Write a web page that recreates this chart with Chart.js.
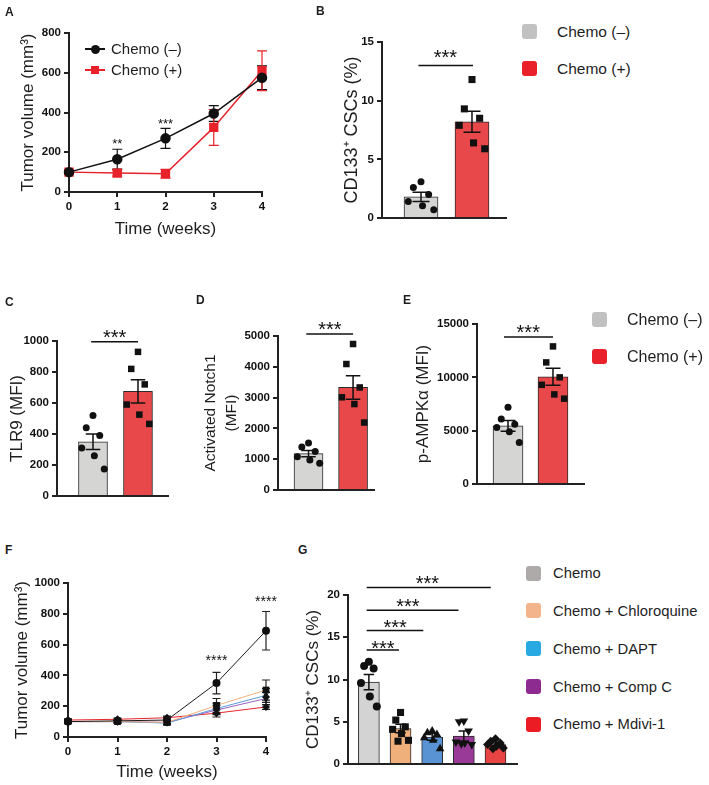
<!DOCTYPE html>
<html>
<head>
<meta charset="utf-8">
<script src="https://cdn.jsdelivr.net/npm/chart.js@4.4.1/dist/chart.umd.min.js"></script>
<style>
  body { margin: 0; background: #fff; font-family: "Liberation Sans", Arial, sans-serif; }
  #fig { position: relative; width: 709px; height: 785px; overflow: hidden; }
  #fig canvas { position: absolute; }
</style>
</head>
<body>
<div id="fig"></div>
<script>
// ---- data ----
var weeks = [0, 1, 2, 3, 4];
var twoGroups = ['Chemo (–)', 'Chemo (+)'];

// A: tumor volume
var aYTicks = [0, 200, 400, 600, 800];
var aNeg = [100, 165, 270, 395, 575];
var aNegErr = [10, 50, 50, 40, 60];
var aPos = [100, 95, 92, 325, 610];
var aPosErr = [10, 15, 22, 90, 100];

// B: CD133+ CSCs
var bTicks = [0, 5, 10, 15];
var bMeans = [1.8, 8.2];
var bSem = [0.4, 0.9];
var bPtsNeg = [3.1, 2.6, 2.0, 1.4, 1.05, 0.7];
var bPtsPos = [11.8, 9.3, 8.5, 7.9, 6.4, 5.9];

// C: TLR9
var cTicks = [0, 200, 400, 600, 800, 1000];
var cMeans = [350, 675];
var cSem = [50, 75];
var cPtsNeg = [520, 440, 390, 310, 260, 175];
var cPtsPos = [930, 820, 720, 590, 525, 465];

// D: activated Notch1
var dTicks = [0, 1000, 2000, 3000, 4000, 5000];
var dMeans = [1180, 3330];
var dSem = [100, 380];
var dPtsNeg = [1530, 1400, 1250, 1080, 970, 870];
var dPtsPos = [4740, 4090, 3330, 3010, 2790, 2190];

// E: p-AMPKa
var eTicks = [0, 5000, 10000, 15000];
var eMeans = [5450, 10050];
var eSem = [500, 800];
var ePtsNeg = [7200, 6100, 5600, 5300, 4900, 3900];
var ePtsPos = [12900, 11400, 10000, 9300, 8400, 8000];

// F: tumor volume, five groups
var fTicks = [0, 200, 400, 600, 800, 1000];
var fGroups = ['Chemo', 'Chemo + Chloroquine', 'Chemo + DAPT', 'Chemo + Comp C', 'Chemo + Mdivi-1'];
var fChemo = [100, 105, 110, 350, 690];
var fChloro = [100, 100, 95, 205, 305];
var fDapt = [100, 100, 90, 185, 270];
var fCompC = [100, 100, 95, 175, 250];
var fMdivi = [110, 115, 125, 155, 195];
var fChemoErr = [10, 10, 20, 70, 125];
var fChloroErr = [8, 8, 10, 45, 65];
var fDaptErr = [8, 8, 10, 35, 45];
var fCompCErr = [8, 8, 10, 30, 40];
var fMdiviErr = [8, 8, 10, 25, 15];

// G: CD133+ CSCs, five groups
var gTicks = [0, 5, 10, 15, 20];
var gMeans = [9.7, 4.2, 3.2, 3.3, 2.3];
var gSem = [0.9, 0.5, 0.4, 0.6, 0.2];
var gPtsChemo = [12.1, 11.6, 11.3, 9.6, 8.0, 6.8];
var gPtsChloro = [6.1, 5.2, 4.4, 4.1, 3.6, 2.8, 2.7];
var gPtsDapt = [3.9, 3.7, 3.5, 3.1, 2.8, 1.8];
var gPtsCompC = [5.1, 5.0, 3.9, 2.6, 2.5, 2.3, 2.4];
var gPtsMdivi = [3.0, 2.7, 2.5, 2.3, 2.1, 1.9, 1.8];

// ---- helpers ----
var FONT = '"Liberation Sans", Arial, Helvetica, sans-serif';
var AX = '#222';
Chart.defaults.font.family = FONT;
Chart.defaults.color = '#111';

var fig = document.getElementById('fig');
var jitter = [0, -0.15, 0.15, -0.25, 0.03, 0.25, -0.08];

function makeCanvas(box) {
  var c = document.createElement('canvas');
  c.width = box.w; c.height = box.h;
  c.style.left = box.x + 'px'; c.style.top = box.y + 'px';
  c.style.width = box.w + 'px'; c.style.height = box.h + 'px';
  fig.appendChild(c);
  return c;
}

function addText(txt, x, y, size, bold) {
  var d = document.createElement('div');
  d.textContent = txt;
  d.style.cssText = 'position:absolute;left:' + x + 'px;top:' + (y - size * 0.6) + 'px;font-size:' + size +
    'px;line-height:' + (size * 1.2) + 'px;white-space:nowrap;color:#1e1e1e;' + (bold ? 'font-weight:bold;' : '');
  fig.appendChild(d);
}

function addBox(x, y, w, h, color, radius) {
  var d = document.createElement('div');
  d.style.cssText = 'position:absolute;left:' + x + 'px;top:' + y + 'px;width:' + w + 'px;height:' + h +
    'px;background:' + color + ';border-radius:' + radius + ';';
  fig.appendChild(d);
}

// layout padding so the chart area lands where the reference puts it
function mkLayout(box, area, titleCx, titleLh, xBottom) {
  var pl = titleCx - box.x - titleLh / 2 - 4;
  return {
    padding: { left: pl, top: area.t - box.y, right: box.x + box.w - area.r, bottom: box.y + box.h - xBottom },
    yW: area.l - box.x - pl,
    xH: xBottom - area.b
  };
}

function ticksFrom(arr) {
  return function (s) { s.ticks = arr.map(function (v) { return { value: v }; }); };
}

function yScale(L, ticks, title, size, lineHeight) {
  return {
    type: 'linear', position: 'left', min: ticks[0], max: ticks[ticks.length - 1],
    afterBuildTicks: ticksFrom(ticks),
    afterFit: function (s) { s.width = L.yW; },
    grid: { drawOnChartArea: false, drawTicks: true, tickLength: 5, color: AX, lineWidth: 2 },
    border: { color: AX, width: 2 },
    ticks: { font: { size: 11.5, weight: 'bold' }, color: '#111', padding: 3, callback: function (v) { return String(v); } },
    title: { display: true, text: title, color: '#1e1e1e', font: { size: size, lineHeight: lineHeight || 1.2 }, padding: { top: 4, bottom: 4 } }
  };
}

function xLine(L, ticks) {
  return {
    type: 'linear', min: ticks[0], max: ticks[ticks.length - 1], offset: false,
    afterBuildTicks: ticksFrom(ticks),
    afterFit: function (s) { s.height = L.xH; },
    grid: { drawOnChartArea: false, drawTicks: true, tickLength: 5, color: AX, lineWidth: 2 },
    border: { color: AX, width: 2 },
    ticks: { font: { size: 11.5, weight: 'bold' }, color: '#111', padding: 3 },
    title: { display: true, text: 'Time (weeks)', color: '#1e1e1e', font: { size: 17 }, padding: { top: 0, bottom: 0 } }
  };
}

function xBar(L, min, max) {
  return {
    type: 'linear', min: min, max: max, offset: false,
    afterFit: function (s) { s.height = L.xH; },
    grid: { display: false },
    border: { color: AX, width: 2 },
    ticks: { display: false }
  };
}

function xy(xs, ys) {
  return xs.map(function (x, i) { return { x: x, y: ys[i] }; });
}

// error bars, significance lines and stars, in data units
var extras = {
  id: 'extras',
  beforeDatasetsDraw: function (chart, args, o) { if (o.under) drawErr(chart, o); },
  afterDatasetsDraw: function (chart, args, o) {
    if (!o.under) drawErr(chart, o);
    var ctx = chart.ctx, xs = chart.scales.x, ys = chart.scales.y;
    ctx.save();
    ctx.strokeStyle = '#111'; ctx.fillStyle = '#111'; ctx.lineWidth = 1.5;
    (o.sig || []).forEach(function (s) {
      var y = ys.getPixelForValue(s.y);
      ctx.beginPath();
      ctx.moveTo(xs.getPixelForValue(s.x1), y);
      ctx.lineTo(xs.getPixelForValue(s.x2), y);
      ctx.stroke();
    });
    (o.stars || []).forEach(function (s) {
      ctx.font = 'normal ' + s.size + 'px ' + FONT;
      ctx.textAlign = 'center'; ctx.textBaseline = 'alphabetic';
      ctx.fillText(s.text, xs.getPixelForValue(s.x), ys.getPixelForValue(s.y) + s.size * 0.58);
    });
    ctx.restore();
  }
};

function drawErr(chart, o) {
  var ctx = chart.ctx, xs = chart.scales.x, ys = chart.scales.y;
  ctx.save();
  (o.err || []).forEach(function (e) {
    ctx.strokeStyle = e.color || '#111';
    ctx.lineWidth = e.lw || 1.5;
    var x = xs.getPixelForValue(e.x);
    var y1 = ys.getPixelForValue(e.y - e.d), y2 = ys.getPixelForValue(e.y + e.d);
    ctx.beginPath();
    ctx.moveTo(x, y1); ctx.lineTo(x, y2);
    ctx.moveTo(x - e.cap, y1); ctx.lineTo(x + e.cap, y1);
    ctx.moveTo(x - e.cap, y2); ctx.lineTo(x + e.cap, y2);
    ctx.stroke();
  });
  ctx.restore();
}
Chart.register(extras);

function opts(L, scales, ex) {
  return {
    responsive: false, animation: false, events: [],
    layout: { padding: L.padding },
    scales: scales,
    plugins: { legend: { display: false }, tooltip: { enabled: false }, extras: ex }
  };
}

// bar panel with dots: groups at x = 0, 1, ...
function barPanel(p) {
  var L = mkLayout(p.box, p.area, p.titleCx, p.titleSize * (p.titleLh || 1.2), p.area.b + 4);
  var ds = [{
    type: 'bar', order: 2,
    data: p.means.map(function (m, i) { return { x: i, y: m }; }),
    backgroundColor: p.colors, borderColor: '#2a2a2a', borderWidth: 1, borderSkipped: 'bottom',
    barThickness: p.thick
  }];
  p.pts.forEach(function (arr, i) {
    ds.push({
      type: 'scatter', order: 1,
      data: arr.map(function (v, j) { return { x: i + jitter[j % jitter.length] * p.spread, y: v }; }),
      pointStyle: p.shapes[i], pointRotation: p.rot ? p.rot[i] : 0,
      pointRadius: p.radii[i], backgroundColor: '#111', borderWidth: 0
    });
  });
  var err = p.means.map(function (m, i) { return { x: i, y: m, d: p.sem[i], cap: p.thick * 0.25 }; });
  new Chart(makeCanvas(p.box), {
    type: 'bar',
    data: { datasets: ds },
    options: opts(L, { x: xBar(L, p.xMin, p.xMax), y: yScale(L, p.ticks, p.title, p.titleSize, p.titleLh) },
      { err: err, sig: p.sig, stars: p.stars })
  });
}

// ---- panel A ----
var LA = mkLayout({ x: 0, y: 0, w: 285, h: 245 }, { l: 69, r: 262, t: 33, b: 192 }, 28, 20.4, 239.2);
new Chart(makeCanvas({ x: 0, y: 0, w: 285, h: 245 }), {
  type: 'line',
  data: {
    datasets: [
      { label: twoGroups[0], data: xy(weeks, aNeg), order: 1, clip: false,
        borderColor: '#111', backgroundColor: '#111', borderWidth: 1.5, pointRadius: 4.5, pointStyle: 'circle' },
      { label: twoGroups[1], data: xy(weeks, aPos), order: 2, clip: false,
        borderColor: '#e8222a', backgroundColor: '#e8222a', borderWidth: 1.5, pointRadius: 5.5, pointStyle: 'rect' }
    ]
  },
  options: opts(LA, { x: xLine(LA, weeks), y: yScale(LA, aYTicks, 'Tumor volume (mm³)', 17) }, {
    under: true,
    err: weeks.map(function (w, i) { return { x: w, y: aNeg[i], d: aNegErr[i], cap: 5, lw: 1.2, color: '#111' }; })
      .concat(weeks.map(function (w, i) { return { x: w, y: aPos[i], d: aPosErr[i], cap: 5, lw: 1.2, color: '#e8222a' }; })),
    stars: [{ x: 1, y: 261, text: '**', size: 13 }, { x: 2, y: 362, text: '***', size: 13 }]
  })
});
// legend inside A
[{ c: '#111', r: '50%', s: 9 }, { c: '#e8222a', r: '0', s: 8 }].forEach(function (m, i) {
  var y = 49 + i * 21;
  addBox(85, y - 0.75, 20, 1.5, m.c, '0');
  addBox(95 - m.s / 2, y - m.s / 2, m.s, m.s, m.c, m.r);
  addText(twoGroups[i], 111, y, 15);
});

// ---- panel B ----
barPanel({
  box: { x: 300, y: 0, w: 220, h: 235 }, area: { l: 382, r: 506, t: 42, b: 218 },
  titleCx: 352, title: 'CD133⁺ CSCs (%)', titleSize: 18, ticks: bTicks,
  xMin: -0.765, xMax: 1.667, thick: 34, spread: 1,
  means: bMeans, sem: bSem, pts: [bPtsNeg, bPtsPos],
  colors: ['#d5d5d4', '#e8484a'], shapes: ['circle', 'rect'], radii: [3.5, 5],
  sig: [{ x1: -0.05, x2: 1.02, y: 13.0 }], stars: [{ x: 0.48, y: 14.1, text: '***', size: 20 }]
});
twoGroups.forEach(function (n, i) {
  var y = 31 + i * 37;
  addBox(522, y - 7.5, 15, 15, ['#c2c1c1', '#e8212a'][i], '3px');
  addText(n, 557, y + 1, 15.5);
});

// ---- panel C ----
barPanel({
  box: { x: 0, y: 300, w: 185, h: 210 }, area: { l: 57, r: 168, t: 341, b: 496 },
  titleCx: 17, title: 'TLR9 (MFI)', titleSize: 17, ticks: cTicks,
  xMin: -0.8, xMax: 1.667, thick: 29, spread: 1,
  means: cMeans, sem: cSem, pts: [cPtsNeg, cPtsPos],
  colors: ['#d5d5d4', '#e8484a'], shapes: ['circle', 'rect'], radii: [3.5, 4.6],
  sig: [{ x1: -0.04, x2: 1.0, y: 995 }], stars: [{ x: 0.48, y: 1055, text: '***', size: 20 }]
});

// ---- panel D ----
barPanel({
  box: { x: 185, y: 300, w: 200, h: 210 }, area: { l: 278, r: 374, t: 336, b: 490 },
  titleCx: 211, title: ['Activated Notch1', '(MFI)'], titleSize: 15.5, titleLh: 1.35, ticks: dTicks,
  xMin: -0.685, xMax: 1.47, thick: 29, spread: 1,
  means: dMeans, sem: dSem, pts: [dPtsNeg, dPtsPos],
  colors: ['#d5d5d4', '#e8484a'], shapes: ['circle', 'rect'], radii: [3.5, 4.6],
  sig: [{ x1: -0.05, x2: 1.0, y: 5065 }], stars: [{ x: 0.48, y: 5380, text: '***', size: 20 }]
});

// ---- panel E ----
barPanel({
  box: { x: 385, y: 300, w: 210, h: 210 }, area: { l: 477, r: 584, t: 324, b: 484 },
  titleCx: 423, title: 'p-AMPKα (MFI)', titleSize: 17, ticks: eTicks,
  xMin: -0.69, xMax: 1.69, thick: 30, spread: 1,
  means: eMeans, sem: eSem, pts: [ePtsNeg, ePtsPos],
  colors: ['#d5d5d4', '#e8484a'], shapes: ['circle', 'rect'], radii: [3.5, 4.6],
  sig: [{ x1: -0.09, x2: 1.0, y: 13780 }], stars: [{ x: 0.45, y: 14720, text: '***', size: 20 }]
});
twoGroups.forEach(function (n, i) {
  var y = 319 + i * 37;
  addBox(592, y - 7.5, 15, 15, ['#c2c1c1', '#e8212a'][i], '3px');
  addText(n, 627, y + 1, 16);
});

// ---- panel F ----
var fSeries = [fChemo, fChloro, fDapt, fCompC, fMdivi];
var fErrs = [fChemoErr, fChloroErr, fDaptErr, fCompCErr, fMdiviErr];
var fLine = ['#1a1a1a', '#f4b07e', '#5b9bd8', '#9a62bf', '#e8252b'];
var fShape = ['circle', 'rect', 'triangle', 'triangle', 'rectRot'];
var fRot = [0, 0, 0, 180, 0];
var fRad = [4, 4.8, 4.5, 4.5, 4];
var LF = mkLayout({ x: 0, y: 560, w: 285, h: 225 }, { l: 68, r: 266, t: 583, b: 737 }, 22, 20.4, 782.2);
new Chart(makeCanvas({ x: 0, y: 560, w: 285, h: 225 }), {
  type: 'line',
  data: {
    datasets: fSeries.map(function (s, i) {
      return {
        label: fGroups[i], data: xy(weeks, s), order: i + 1, clip: false,
        borderColor: fLine[i], borderWidth: 1, backgroundColor: '#111',
        pointStyle: fShape[i], pointRotation: fRot[i], pointRadius: fRad[i], pointBorderWidth: 0
      };
    })
  },
  options: opts(LF, { x: xLine(LF, weeks), y: yScale(LF, fTicks, 'Tumor volume (mm³)', 17) }, {
    under: true,
    err: [].concat.apply([], fSeries.map(function (s, i) {
      return weeks.map(function (w, k) { return { x: w, y: s[k], d: fErrs[i][k], cap: 4, lw: 1.2, color: '#222' }; });
    })),
    stars: [{ x: 3, y: 520, text: '****', size: 14 }, { x: 4, y: 903, text: '****', size: 14 }]
  })
});

// ---- panel G ----
barPanel({
  box: { x: 285, y: 560, w: 240, h: 225 }, area: { l: 348, r: 517, t: 595, b: 764 },
  titleCx: 313, title: 'CD133⁺ CSCs (%)', titleSize: 17, ticks: gTicks,
  xMin: -0.66, xMax: 4.68, thick: 21, spread: 1,
  means: gMeans, sem: gSem, pts: [gPtsChemo, gPtsChloro, gPtsDapt, gPtsCompC, gPtsMdivi],
  colors: ['#d3d3d3', '#f0b07c', '#5a93d4', '#9a3a98', '#e84444'],
  shapes: ['circle', 'rect', 'triangle', 'triangle', 'rectRot'], rot: [0, 0, 0, 180, 0],
  radii: [4, 5, 5, 5, 4.5],
  sig: [
    { x1: -0.07, x2: 0.95, y: 13.5 }, { x1: -0.07, x2: 1.72, y: 15.8 },
    { x1: -0.07, x2: 2.83, y: 18.2 }, { x1: -0.07, x2: 3.85, y: 20.9 }
  ],
  stars: [
    { x: 0.44, y: 14.3, text: '***', size: 20 }, { x: 0.83, y: 16.7, text: '***', size: 20 },
    { x: 1.23, y: 19.2, text: '***', size: 20 }, { x: 1.85, y: 22.0, text: '***', size: 20 }
  ]
});
var gLegend = ['#aeaaa9', '#f3b48c', '#29a9e1', '#8e2b90', '#ec1c24'];
fGroups.forEach(function (n, i) {
  var y = 573 + i * 37.8;
  addBox(526, y - 7.5, 15, 15, gLegend[i], '3px');
  addText(n, 553, y + 1, 14.8);
});

// ---- panel letters ----
[['A', 5, 12], ['B', 316, 11], ['C', 5, 302], ['D', 196, 300], ['E', 403, 300], ['F', 5, 550], ['G', 298, 550]]
  .forEach(function (l) { addText(l[0], l[1], l[2], 12, true); });
</script>
</body>
</html>
